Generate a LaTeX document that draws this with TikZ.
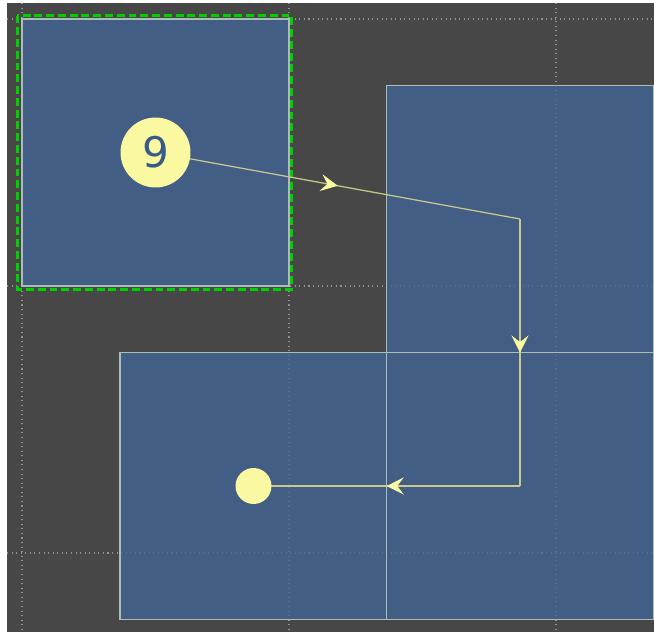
\documentclass[tikz,border=0pt]{standalone}
\usepackage{fontspec}
\setmainfont{DejaVu Sans}
\usepackage{tikz}
\usetikzlibrary{arrows.meta,decorations.markings}
\definecolor{Canvas}{HTML}{474747}
\definecolor{Tile}{HTML}{425E85}
\definecolor{TileEdge}{HTML}{A9BFB5}
\definecolor{Token}{HTML}{FAF8A0}
\definecolor{Wire}{HTML}{C9C98E}
\definecolor{Pick}{HTML}{00D000}
\definecolor{Digit}{HTML}{3A5A8A}

\begin{document}
\begin{tikzpicture}[x=0.02cm, y=-0.02cm,
  tile/.style={draw=TileEdge, line width=0.9pt, fill=Tile, minimum size=5.34cm, inner sep=0pt},
  token/.style={circle, fill=Token, inner sep=0pt},
  wire/.style={draw=Wire, line width=0.7pt, postaction=decorate,
    decoration={markings, mark=at position 0.5 with {\arrow[Token]{Stealth[length=0.34cm, width=0.34cm, inset=0.13cm]}}}}]
  \useasboundingbox[fill=white] (0,0) rectangle (654,633);
  \fill[Canvas] (7,3) rectangle (654,632);
  % grid
  \foreach \g in {22,289,556} {
    \draw[gray!70, opacity=0.7, line width=0.6pt, dotted] (\g,3) -- (\g,632);
    \draw[gray!70, opacity=0.7, line width=0.6pt, dotted] (7,\g-3) -- (654,\g-3);
  }
  % tiles
  \node[tile] (tA) at (155.5,152.5) {};
  \node[tile] (tB) at (520,219) {};
  \node[tile] (tC) at (253.5,486) {};
  \node[tile] (tD) at (520,486) {};
  \foreach \g in {22,289,556} {
    \draw[gray!60, opacity=0.2, line width=0.6pt, dotted] (\g,3) -- (\g,632);
    \draw[gray!60, opacity=0.2, line width=0.6pt, dotted] (7,\g-3) -- (654,\g-3);
  }
  % selection
  \draw[Pick, line width=2pt, dash pattern=on 4.5pt off 2.2pt] (17.5,15.5) rectangle (291.5,289.5);
  % path
  \draw[wire] (tA.center) -- (tB.center);
  \draw[wire] (tB.center) -- (tD.center);
  \draw[wire] (tD.center) -- (tC.center);
  \node[token, minimum size=1.4cm, text=Digit, font=\fontsize{24}{24}\selectfont] (nine) at (tA.center) {9};
  \node[token, minimum size=0.72cm] (dot) at (tC.center) {};
\end{tikzpicture}
\end{document}
